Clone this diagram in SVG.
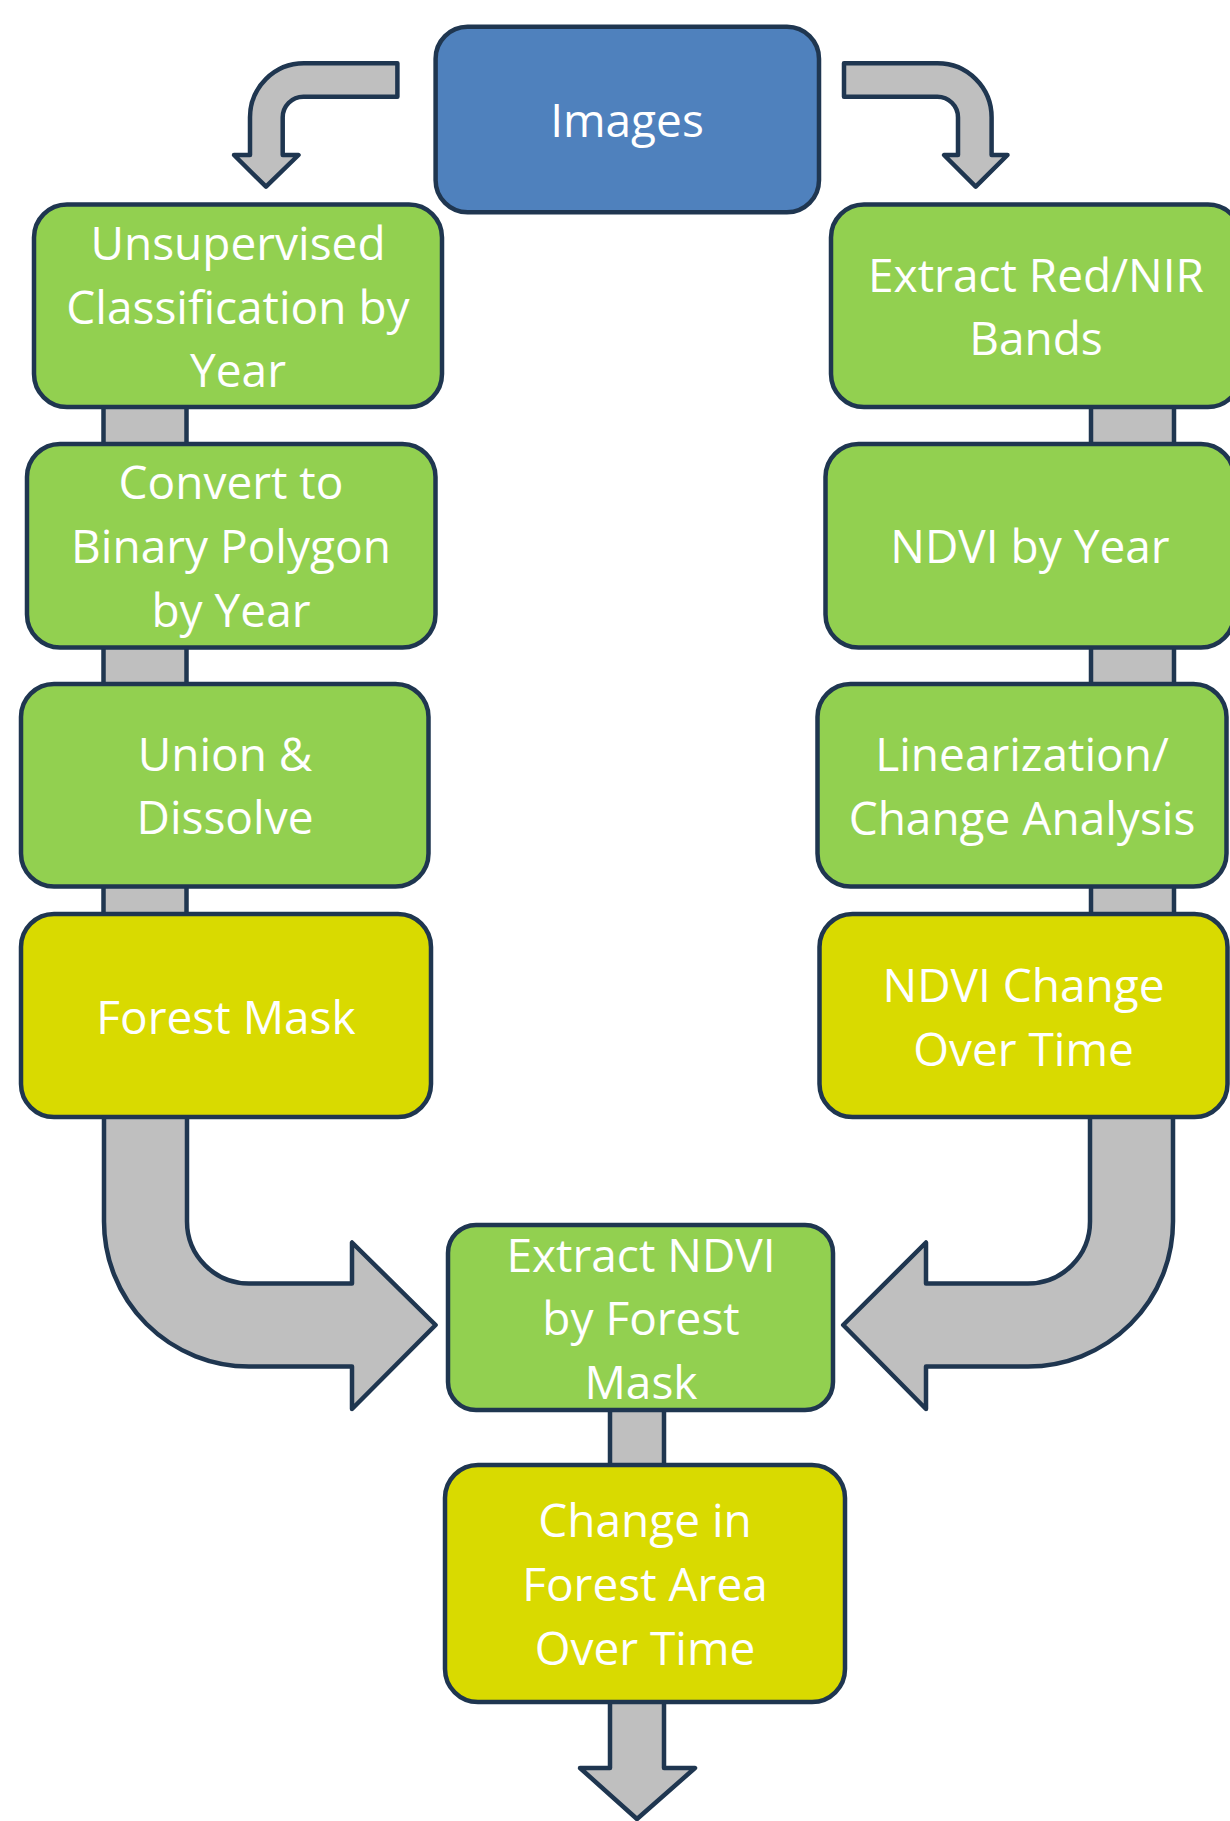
<svg xmlns="http://www.w3.org/2000/svg" width="1230" height="1821" viewBox="0 0 1230 1821">
<style>
.box{stroke:#1F3650;stroke-width:4.5}
.blue{fill:#4F81BD}
.green{fill:#92D050}
.yellow{fill:#D9DA00}
.conn{fill:#BFBFBF;stroke:#1F3650;stroke-width:4.5;stroke-linejoin:round}
text{font-family:"Open Sans","Liberation Sans",sans-serif;font-size:46px;fill:#FFFFFF;text-anchor:middle}
</style>
<rect width="1230" height="1821" fill="#FFFFFF"/>
<g id="connectors">
<path class="conn" d="M397.4 63.3 H304 A54 54 0 0 0 250 117.3 V155 H234 L266 186.7 L298.5 155 H282.7 V117.4 A20.7 20.7 0 0 1 303.4 96.7 H397.4 Z"/>
<path class="conn" d="M844 63.3 H937.6 A54 54 0 0 1 991.6 117.3 V155 H1007.5 L975.7 186.7 L944 155 H958 V117.4 A20.7 20.7 0 0 0 937.3 96.7 H844 Z"/>
<rect class="conn" x="103.5" y="400" width="83" height="50"/>
<rect class="conn" x="103.5" y="640" width="83" height="50"/>
<rect class="conn" x="103.5" y="880" width="83" height="40"/>
<rect class="conn" x="1091" y="400" width="83" height="50"/>
<rect class="conn" x="1091" y="640" width="83" height="50"/>
<rect class="conn" x="1091" y="880" width="83" height="40"/>
<path class="conn" d="M104 1110 V1221.5 A145 145 0 0 0 249 1366.5 H352 V1409 L435.6 1325 L352 1242.5 V1283.5 H249 A62 62 0 0 1 187 1221.5 V1110 Z"/>
<path class="conn" d="M1173 1110 V1221.5 A145 145 0 0 1 1028 1366.5 H926 V1409 L843.2 1325 L926 1242.5 V1283.5 H1028 A62 62 0 0 0 1090 1221.5 V1110 Z"/>
<rect class="conn" x="610" y="1405" width="54" height="64"/>
<path class="conn" d="M610 1695 V1768 H580 L637 1819 L695 1768 H664 V1695 Z"/>
</g>
<g id="n-images">
<rect class="box blue" x="435.6" y="26.7" width="383.4" height="185.5" rx="32"/>
<text x="627" y="137">Images</text>
</g>
<g id="n-unsupervised">
<rect class="box green" x="34" y="204.5" width="408" height="202.5" rx="33"/>
<text x="238" y="260">Unsupervised</text>
<text x="238" y="323.5">Classification by</text>
<text x="238" y="387">Year</text>
</g>
<g id="n-convert">
<rect class="box green" x="27" y="444" width="408.5" height="203.5" rx="33"/>
<text x="231" y="499">Convert to</text>
<text x="231" y="563">Binary Polygon</text>
<text x="231" y="627">by Year</text>
</g>
<g id="n-union">
<rect class="box green" x="21" y="684" width="407.5" height="202.5" rx="33"/>
<text x="225" y="771">Union &amp;</text>
<text x="225" y="834">Dissolve</text>
</g>
<g id="n-forestmask">
<rect class="box yellow" x="21" y="914" width="410" height="203" rx="33"/>
<text x="226" y="1034">Forest Mask</text>
</g>
<g id="n-extractbands">
<rect class="box green" x="831" y="204.5" width="410" height="202.5" rx="33"/>
<text x="1036" y="291.7">Extract Red/NIR</text>
<text x="1036" y="355">Bands</text>
</g>
<g id="n-ndviyear">
<rect class="box green" x="825.5" y="444" width="408.5" height="203.5" rx="33"/>
<text x="1030" y="563">NDVI by Year</text>
</g>
<g id="n-linearization">
<rect class="box green" x="817.5" y="684" width="409" height="202.5" rx="33"/>
<text x="1022" y="771">Linearization/</text>
<text x="1022" y="835">Change Analysis</text>
</g>
<g id="n-ndvichange">
<rect class="box yellow" x="819.5" y="914" width="408" height="203" rx="33"/>
<text x="1023.5" y="1001.5">NDVI Change</text>
<text x="1023.5" y="1065.7">Over Time</text>
</g>
<g id="n-extractndvi">
<rect class="box green" x="448" y="1225" width="385" height="185" rx="28"/>
<text x="641" y="1272">Extract NDVI</text>
<text x="641" y="1335">by Forest</text>
<text x="641" y="1399">Mask</text>
</g>
<g id="n-change">
<rect class="box yellow" x="445" y="1465" width="400" height="237" rx="33"/>
<text x="645" y="1537">Change in</text>
<text x="645" y="1601">Forest Area</text>
<text x="645" y="1665">Over Time</text>
</g>
</svg>
